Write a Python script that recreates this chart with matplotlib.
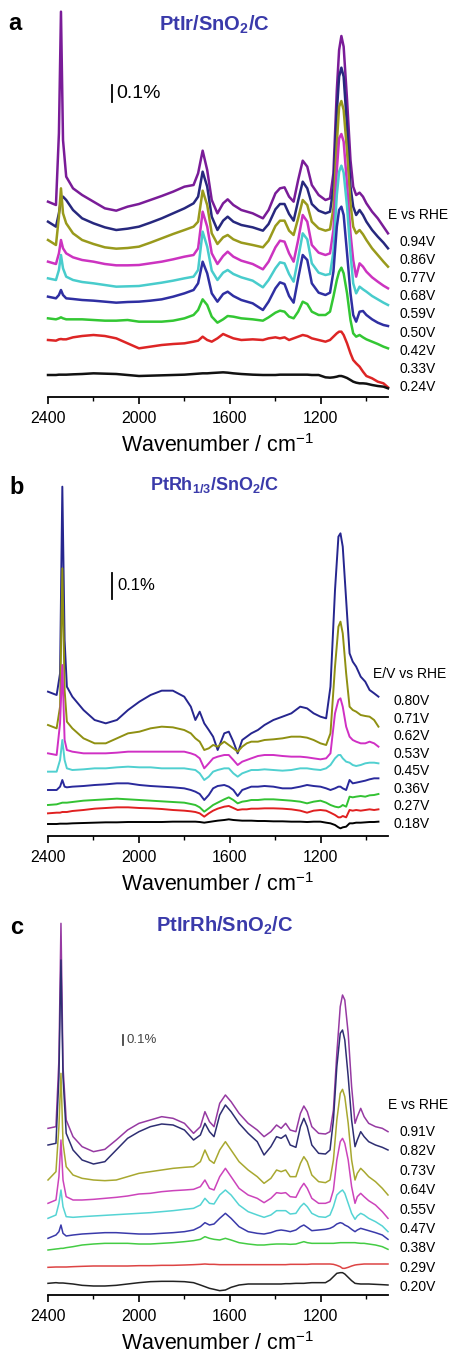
import numpy as np
import matplotlib
matplotlib.use('Agg')
import matplotlib.pyplot as plt
from matplotlib.ticker import MultipleLocator

plt.rcParams['font.family'] = 'Liberation Sans'
plt.rcParams['mathtext.fontset'] = 'custom'
plt.rcParams['mathtext.rm'] = 'Liberation Sans'
plt.rcParams['mathtext.bf'] = 'Liberation Sans:bold'
plt.rcParams['mathtext.it'] = 'Liberation Sans:italic'

# ---------------- (a) PtIr/SnO2/C ----------------
wn_a = [2400, 2365, 2352, 2343, 2334, 2320, 2290, 2250, 2200, 2150,
        2100, 2050, 2000, 1950, 1900, 1850, 1800, 1760, 1740, 1720,
        1700, 1680, 1655, 1630, 1610, 1585, 1550, 1500, 1455, 1430,
        1400, 1380, 1360, 1340, 1320, 1300, 1280, 1260, 1240, 1210,
        1180, 1160, 1145, 1130, 1120, 1110, 1100, 1085, 1070, 1058,
        1045, 1030, 1015, 1000, 975, 950, 925, 905]

a_094 = [586, 576, 791, 1156, 771, 661, 626, 606, 586, 566,
         559, 571, 579, 591, 603, 616, 631, 636, 671, 739,
         681, 591, 551, 581, 593, 576, 561, 551, 536, 561,
         611, 626, 629, 601, 586, 651, 709, 691, 636, 606,
         591, 596, 671, 921, 1041, 1083, 1051, 891, 711, 631,
         606, 613, 601, 581, 556, 536, 511, 491]
a_086 = [526, 511, 551, 591, 601, 591, 561, 536, 521, 509,
         501, 505, 511, 523, 536, 551, 566, 581, 601, 676,
         631, 541, 501, 529, 541, 526, 516, 509, 499, 519,
         563, 579, 579, 549, 529, 589, 646, 626, 579, 559,
         551, 556, 626, 856, 961, 988, 961, 811, 631, 571,
         546, 561, 546, 526, 501, 481, 463, 446]
a_077 = [471, 456, 541, 626, 551, 521, 491, 471, 459, 449,
         445, 447, 451, 463, 476, 489, 501, 511, 526, 619,
         576, 491, 459, 479, 486, 473, 463, 456, 449, 469,
         513, 529, 529, 499, 486, 536, 591, 576, 526, 506,
         499, 503, 566, 761, 871, 888, 861, 736, 581, 511,
         491, 501, 488, 471, 446, 426, 406, 391]
a_068 = [406, 399, 431, 471, 446, 431, 419, 411, 406, 399,
         395, 395, 396, 401, 406, 413, 421, 426, 446, 556,
         511, 431, 399, 423, 436, 421, 409, 399, 383, 406,
         449, 469, 466, 431, 406, 471, 546, 526, 456, 433,
         426, 431, 501, 681, 776, 789, 766, 636, 491, 411,
         361, 401, 391, 376, 359, 346, 334, 326]
a_059 = [356, 351, 381, 426, 386, 361, 351, 345, 341, 336,
         331, 332, 333, 338, 343, 349, 356, 361, 381, 496,
         451, 379, 351, 373, 381, 369, 359, 349, 329, 351,
         386, 404, 401, 369, 346, 416, 491, 473, 401, 373,
         366, 369, 436, 606, 676, 694, 673, 571, 431, 341,
         311, 331, 323, 316, 303, 293, 283, 276]
a_050 = [301, 296, 306, 321, 306, 296, 294, 291, 289, 286,
         283, 285, 286, 289, 293, 301, 311, 321, 341, 406,
         371, 311, 286, 309, 316, 303, 291, 281, 261, 286,
         326, 344, 339, 303, 283, 356, 426, 411, 341, 313,
         306, 313, 376, 511, 561, 571, 546, 431, 311, 246,
         226, 256, 258, 246, 233, 223, 216, 213]
a_042 = [236, 233, 236, 239, 236, 233, 233, 233, 231, 229,
         229, 231, 226, 226, 226, 229, 236, 246, 261, 293,
         276, 241, 223, 233, 243, 241, 236, 233, 229, 239,
         253, 259, 256, 241, 236, 256, 286, 279, 256, 246,
         246, 256, 301, 351, 376, 388, 371, 311, 231, 191,
         181, 186, 179, 173, 166, 159, 151, 146]
a_033 = [171, 169, 173, 174, 173, 173, 179, 183, 186, 183,
         176, 161, 146, 151, 156, 159, 161, 166, 169, 181,
         171, 166, 176, 189, 183, 176, 171, 173, 171, 176,
         179, 176, 179, 171, 176, 181, 186, 183, 176, 171,
         166, 171, 181, 191, 196, 196, 186, 161, 131, 111,
         101, 91, 76, 63, 56, 46, 41, 29]
a_024 = [66, 66, 67, 67, 67, 67, 68, 69, 71, 70,
         69, 66, 63, 64, 65, 66, 67, 69, 70, 71,
         71, 72, 73, 74, 73, 71, 69, 67, 66, 66,
         66, 67, 67, 67, 67, 67, 67, 67, 66, 66,
         59, 58, 59, 61, 63, 63, 61, 57, 51, 46,
         43, 41, 41, 40, 36, 33, 31, 26]
pots_a = ['0.94V', '0.86V', '0.77V', '0.68V', '0.59V', '0.50V', '0.42V', '0.33V', '0.24V']

# ---------------- (b) PtRh1/3/SnO2/C ----------------
wn_b = [2400, 2362, 2347, 2337, 2327, 2317, 2293, 2244, 2195, 2146,
        2097, 2048, 1998, 1949, 1900, 1851, 1801, 1772, 1752, 1733,
        1713, 1693, 1674, 1654, 1625, 1605, 1585, 1566, 1546, 1526,
        1506, 1477, 1448, 1409, 1369, 1330, 1291, 1261, 1232, 1202,
        1177, 1158, 1138, 1123, 1114, 1104, 1089, 1074, 1060, 1045,
        1025, 1005, 986, 966, 947]

b_080 = [433, 423, 488, 1048, 588, 448, 418, 378, 348, 338,
         348, 378, 403, 423, 436, 436, 418, 388, 348, 373,
         338, 318, 298, 258, 308, 313, 283, 248, 288, 298,
         308, 318, 333, 348, 358, 368, 388, 383, 368, 358,
         353, 448, 738, 898, 908, 868, 708, 548, 523, 508,
         478, 463, 438, 428, 418]
b_071 = [333, 323, 388, 803, 438, 343, 323, 293, 278, 278,
         293, 308, 313, 323, 328, 326, 318, 308, 293, 283,
         258, 263, 273, 268, 283, 273, 263, 253, 268, 278,
         283, 283, 288, 290, 293, 298, 298, 295, 288, 278,
         273, 308, 508, 628, 643, 608, 488, 388, 378, 373,
         363, 360, 358, 348, 328]
b_062 = [248, 243, 338, 513, 288, 258, 253, 248, 248, 248,
         250, 253, 253, 253, 253, 253, 253, 248, 243, 233,
         203, 218, 233, 238, 243, 243, 228, 213, 223, 228,
         233, 240, 243, 243, 240, 238, 238, 236, 233, 230,
         233, 248, 368, 408, 413, 388, 328, 298, 288, 283,
         278, 278, 283, 278, 268]
b_053 = [193, 193, 228, 288, 228, 203, 198, 200, 203, 203,
         206, 208, 206, 206, 203, 203, 203, 200, 198, 188,
         168, 178, 193, 198, 203, 203, 188, 178, 188, 193,
         198, 198, 200, 198, 196, 198, 203, 203, 200, 198,
         203, 213, 233, 243, 243, 233, 223, 220, 213, 210,
         213, 218, 220, 220, 218]
b_045 = [138, 138, 148, 168, 148, 146, 148, 150, 153, 155,
         158, 158, 153, 150, 148, 146, 143, 138, 133, 126,
         108, 123, 143, 150, 153, 148, 138, 120, 138, 143,
         148, 148, 150, 148, 143, 143, 148, 153, 150, 148,
         143, 138, 143, 148, 148, 143, 138, 168, 158, 160,
         163, 166, 170, 173, 173]
b_036 = [93, 95, 98, 100, 100, 100, 102, 106, 108, 110,
         112, 110, 108, 106, 104, 102, 100, 96, 93, 86,
         73, 83, 93, 100, 110, 116, 108, 98, 103, 105,
         108, 108, 110, 110, 108, 106, 103, 98, 103, 106,
         100, 93, 88, 86, 88, 93, 88, 118, 116, 118,
         120, 118, 122, 123, 126]
b_027 = [68, 70, 70, 72, 72, 72, 75, 78, 82, 84,
         86, 86, 84, 83, 81, 78, 76, 74, 72, 68,
         58, 68, 76, 82, 88, 90, 84, 78, 80, 80,
         82, 82, 83, 83, 82, 80, 76, 70, 76, 78,
         76, 70, 63, 56, 56, 60, 56, 78, 76, 78,
         76, 78, 80, 78, 80]
b_018 = [36, 36, 37, 37, 37, 37, 38, 39, 40, 41,
         41, 42, 42, 42, 42, 43, 43, 43, 43, 42,
         40, 42, 44, 46, 48, 50, 48, 47, 46, 46,
         46, 45, 45, 44, 44, 43, 43, 42, 43, 43,
         40, 38, 33, 26, 23, 26, 28, 38, 38, 40,
         40, 41, 42, 42, 43]
pots_b = ['0.80V', '0.71V', '0.62V', '0.53V', '0.45V', '0.36V', '0.27V', '0.18V']

# ---------------- (c) PtIrRh/SnO2/C ----------------
wn_c = [2400, 2365, 2352, 2343, 2334, 2320, 2290, 2250, 2200, 2150,
        2100, 2050, 2000, 1950, 1900, 1850, 1800, 1760, 1730, 1710,
        1690, 1670, 1645, 1620, 1595, 1560, 1520, 1480, 1450, 1420,
        1395, 1375, 1355, 1335, 1310, 1290, 1275, 1260, 1240, 1210,
        1180, 1160, 1145, 1130, 1115, 1105, 1095, 1080, 1065, 1050,
        1040, 1025, 1010, 990, 960, 930, 905]

c_091 = [500, 505, 705, 1115, 685, 525, 475, 445, 430, 437,
         465, 495, 515, 525, 535, 530, 515, 485, 505, 550,
         520, 505, 575, 600, 580, 545, 515, 495, 475, 490,
         510, 500, 515, 495, 490, 545, 567, 550, 505, 485,
         483, 490, 555, 725, 865, 900, 885, 785, 625, 515,
         535, 560, 535, 515, 505, 500, 490]
c_082 = [450, 455, 655, 1005, 655, 485, 435, 405, 393, 400,
         435, 470, 490, 505, 513, 510, 495, 465, 480, 515,
         490, 475, 540, 570, 550, 515, 485, 460, 420, 445,
         475, 470, 480, 450, 443, 505, 530, 505, 450, 425,
         423, 435, 525, 685, 785, 795, 765, 655, 525, 445,
         465, 490, 475, 460, 450, 443, 435]
c_073 = [345, 370, 505, 665, 455, 385, 360, 350, 345, 343,
         345, 355, 365, 370, 375, 380, 383, 385, 400, 435,
         405, 395, 435, 460, 435, 400, 375, 355, 335, 350,
         375, 370, 375, 355, 355, 395, 415, 400, 360, 340,
         337, 345, 405, 525, 605, 617, 595, 515, 405, 345,
         365, 380, 370, 355, 340, 320, 300]
c_064 = [275, 285, 355, 465, 345, 295, 285, 285, 287, 290,
         293, 297, 303, 305, 310, 313, 315, 317, 325, 345,
         320, 315, 355, 380, 355, 320, 300, 290, 277, 290,
         307, 305, 307, 295, 293, 320, 335, 320, 290, 275,
         275, 280, 315, 405, 460, 470, 455, 405, 325, 275,
         295, 305, 295, 283, 270, 250, 230]
c_055 = [230, 240, 275, 315, 265, 235, 233, 235, 237, 239,
         241, 243, 245, 247, 250, 253, 257, 260, 270, 290,
         275, 273, 300, 315, 300, 270, 250, 240, 233, 240,
         253, 253, 253, 243, 245, 265, 275, 265, 245, 235,
         233, 240, 265, 300, 310, 315, 305, 275, 245, 227,
         237, 245, 240, 230, 220, 207, 190]
c_047 = [170, 180, 190, 210, 185, 177, 180, 183, 185, 187,
         187, 185, 183, 183, 185, 187, 190, 195, 205, 217,
         210, 213, 230, 245, 230, 205, 190, 185, 183, 187,
         193, 195, 193, 190, 195, 205, 210, 203, 193, 195,
         197, 200, 205, 213, 217, 215, 210, 205, 197, 190,
         195, 200, 197, 193, 187, 180, 167]
c_038 = [135, 138, 139, 140, 140, 142, 145, 150, 153, 155,
         155, 155, 153, 153, 155, 157, 160, 163, 167, 175,
         170, 167, 165, 170, 165, 157, 153, 150, 150, 152,
         153, 153, 153, 152, 153, 157, 160, 157, 155, 155,
         155, 155, 155, 156, 157, 157, 157, 157, 157, 157,
         156, 155, 155, 153, 150, 145, 137]
c_029 = [83, 84, 84, 84, 84, 84, 85, 86, 87, 87,
         87, 87, 88, 88, 89, 89, 90, 91, 92, 93,
         92, 92, 91, 91, 91, 91, 91, 91, 91, 91,
         91, 91, 91, 92, 92, 92, 92, 92, 93, 93,
         93, 93, 92, 89, 85, 80, 80, 83, 87, 90,
         91, 92, 93, 93, 93, 93, 93]
c_020 = [35, 37, 36, 36, 36, 35, 33, 29, 27, 27,
         29, 33, 37, 40, 41, 41, 40, 37, 30, 25,
         20, 17, 13, 15, 23, 30, 33, 33, 33, 33,
         33, 33, 34, 34, 35, 35, 35, 36, 37, 37,
         37, 45, 55, 65, 67, 67, 63, 53, 43, 35,
         34, 33, 33, 33, 32, 31, 30]
pots_c = ['0.91V', '0.82V', '0.73V', '0.64V', '0.55V', '0.47V', '0.38V', '0.29V', '0.20V']

cols_a = ['#7a1c98', '#27287e', '#999a1c', '#cc33c0', '#48cccc', '#2f2fa2', '#33c733', '#dd2525', '#111111']
cols_b = ['#26268f', '#8f9012', '#d030c4', '#50d0d0', '#2a2a9c', '#33c233', '#e02020', '#000000']
cols_c = ['#963aa2', '#2e2e72', '#a8a830', '#cc44bb', '#55d4d4', '#3a3aaa', '#44cc44', '#dd4444', '#222222']

W, H = 457, 1355
fig = plt.figure(figsize=(W / 100, H / 100), dpi=100)
title_col = '#3a3aaa'


def fx(x):
    return x / W


def fy(y):
    return 1 - y / H


def do_panel(top, bot, ymax, wn, curves, cols, lw):
    ax = fig.add_axes([fx(48), fy(bot), fx(388) - fx(48), (bot - top) / H])
    ax.patch.set_alpha(0)
    # top spectrum first so the lower ones sit on top of it
    for ys, c in zip(curves, cols):
        ax.plot(wn, ys, color=c, lw=lw, solid_joinstyle='round', clip_on=False)
    ax.set_xlim(2400, 905)
    ax.set_ylim(0, ymax)
    for s in ['left', 'right', 'top']:
        ax.spines[s].set_visible(False)
    ax.spines['bottom'].set_linewidth(1.3)
    ax.set_yticks([])
    ax.xaxis.set_major_locator(MultipleLocator(400))
    ax.xaxis.set_minor_locator(MultipleLocator(200))
    ax.tick_params(axis='x', which='major', direction='out', length=5, width=1.2,
                   pad=5, labelsize=11.5)
    ax.tick_params(axis='x', which='minor', direction='out', length=3, width=1.0)
    ax.set_xlabel('Wavenumber / cm$^{-1}$', fontsize=15.5, labelpad=6)
    return ax


def scale_bar(ax, x, y0, y1, tx, size, col='black'):
    ax.plot([x, x], [y0, y1], color=col, lw=1.3, clip_on=False)
    ax.text(tx, (y0 + y1) / 2, '0.1%', fontsize=size, color=col, va='center', ha='left')


def pot_labels(head, head_x, x, y0, y1, pots):
    fig.text(fx(head_x), fy(y0 - 27), head, fontsize=10, va='center', ha='left')
    for lab, y in zip(pots, np.linspace(y0, y1, len(pots))):
        fig.text(fx(x), fy(y), lab, fontsize=10, va='center', ha='left')


# panel a
ax = do_panel(10, 397, 1161, wn_a,
              [a_094, a_086, a_077, a_068, a_059, a_050, a_042, a_033, a_024], cols_a, 1.8)
scale_bar(ax, 2120, 885, 936, 2098, 14)
fig.text(fx(15), fy(23), 'a', fontsize=17, fontweight='bold', va='center', ha='center')
fig.text(fx(214), fy(25), r'$\mathbf{PtIr/SnO_2/C}$', fontsize=14.5, color=title_col,
         va='center', ha='center')
pot_labels('E vs RHE', 388, 400, 242, 387, pots_a)

# panel b
ax = do_panel(480, 836, 1068, wn_b,
              [b_080, b_071, b_062, b_053, b_045, b_036, b_027, b_018], cols_b, 1.4)
scale_bar(ax, 2120, 711, 789, 2097, 12)
fig.text(fx(17), fy(488), 'b', fontsize=17, fontweight='bold', va='center', ha='center')
fig.text(fx(215), fy(485), r'$\mathbf{PtRh_{1/3}/SnO_2/C}$', fontsize=13, color=title_col,
         va='center', ha='center')
pot_labels('E/V vs RHE', 373, 393, 701, 824, pots_b)

# panel c
ax = do_panel(920, 1295, 1125, wn_c,
              [c_091, c_082, c_073, c_064, c_055, c_047, c_038, c_029, c_020], cols_c, 1.1)
scale_bar(ax, 2070, 750, 780, 2053, 9.5, col='#444444')
fig.text(fx(17), fy(927), 'c', fontsize=17, fontweight='bold', va='center', ha='center')
fig.text(fx(225), fy(926), r'$\mathbf{PtIrRh/SnO_2/C}$', fontsize=14.5, color=title_col,
         va='center', ha='center')
pot_labels('E vs RHE', 388, 400, 1132, 1287, pots_c)

fig.savefig('out.png', dpi=100)
